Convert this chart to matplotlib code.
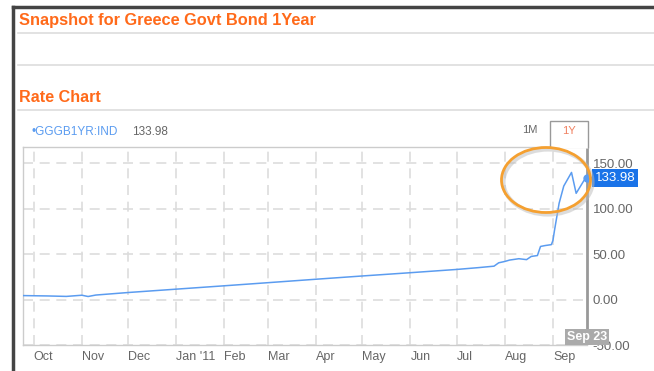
import datetime as dt
import matplotlib
matplotlib.use('Agg')
import matplotlib.pyplot as plt
import matplotlib.dates as mdates
from matplotlib.patches import Ellipse, Polygon
from matplotlib.lines import Line2D

plt.rcParams['font.family'] = ['Liberation Sans', 'DejaVu Sans']

# data
dates = ['2010-09-24', '2010-10-10', '2010-10-22', '2010-11-01', '2010-11-05',
         '2010-11-10', '2010-12-01', '2011-01-01', '2011-02-01', '2011-03-01',
         '2011-04-01', '2011-05-01', '2011-06-01', '2011-07-01', '2011-07-15',
         '2011-07-25', '2011-07-28', '2011-08-01', '2011-08-04', '2011-08-10',
         '2011-08-15', '2011-08-18', '2011-08-22', '2011-08-24', '2011-08-27',
         '2011-08-31', '2011-09-01', '2011-09-02', '2011-09-05', '2011-09-08',
         '2011-09-13', '2011-09-16', '2011-09-21', '2011-09-23']
rates = [4.4, 4.0, 3.5, 4.8, 3.4, 5.0, 7.8, 11.5, 15.2, 18.6,
         22.4, 26.0, 29.6, 33.2, 35.2, 36.8, 40.5, 42.0, 43.5, 45.0,
         44.0, 47.5, 48.5, 58.5, 59.5, 60.5, 65.0, 76.0, 106.0, 125.0,
         140.0, 117.0, 131.0, 133.98]
last_value = 133.98
y_ticks = [-50, 0, 50, 100, 150]
series_name = 'GGGB1YR:IND'

W, H = 654, 371
x = [dt.datetime.strptime(d, '%Y-%m-%d') for d in dates]

fig = plt.figure(figsize=(W / 100, H / 100), dpi=100)
fig.patch.set_facecolor('white')

def fx(px):
    return px / W

def fy(py):
    return 1 - py / H

orange = '#ff6a1a'
blue = '#5b9cf0'
gray_txt = '#666666'

# page frame and separators
fig.add_artist(Line2D([fx(13), fx(13)], [fy(7), fy(371)], color='#444444', lw=2.5))
fig.add_artist(Line2D([fx(13), fx(654)], [fy(7), fy(7)], color='#444444', lw=2.5))
for yy in (33, 65, 110):
    fig.add_artist(Line2D([fx(18), fx(654)], [fy(yy), fy(yy)], color='#dddddd', lw=1.2))

fig.text(fx(19), fy(21), 'Snapshot for Greece Govt Bond 1Year', color=orange,
         fontsize=11.8, fontweight='bold', va='center', ha='left')
fig.text(fx(19), fy(97), 'Rate Chart', color=orange,
         fontsize=11.6, fontweight='bold', va='center', ha='left')

# legend line
fig.text(fx(32), fy(132), '\u2022' + series_name, color=blue, fontsize=8.5,
         va='center', ha='left')
fig.text(fx(132), fy(132), f'{last_value:.2f}', color=gray_txt, fontsize=8.5,
         va='center', ha='left')

# main axes
ax = fig.add_axes([fx(23), fy(345), fx(587) - fx(23), fy(147) - fy(345)])
ax.plot(x, rates, color=blue, lw=1.1, zorder=3)
ax.plot(x[-1], rates[-1], 'o', color=blue, ms=5, zorder=4, clip_on=False)

ax.set_xlim(dt.datetime(2010, 9, 24), dt.datetime(2011, 9, 23))
ax.set_ylim(-50, 168)

ax.xaxis.set_major_locator(mdates.MonthLocator())

def month_fmt(v, pos):
    d = mdates.num2date(v)
    if d.month == 1:
        return d.strftime("%b '%y")
    return d.strftime('%b')

ax.xaxis.set_major_formatter(plt.FuncFormatter(month_fmt))
ax.tick_params(axis='x', length=0, pad=4, labelsize=9, labelcolor=gray_txt)

ax.yaxis.tick_right()
ax.set_yticks(y_ticks)
ax.yaxis.set_major_formatter(plt.FuncFormatter(lambda v, p: f'{v:.2f}'))
ax.tick_params(axis='y', length=0, pad=4, labelsize=9.5, labelcolor=gray_txt)

ax.grid(True, color='#dddddd', ls=(0, (6, 4)), lw=1.2)
ax.set_axisbelow(True)
for s in ('left', 'top', 'bottom'):
    ax.spines[s].set_color('#cccccc')
    ax.spines[s].set_linewidth(1)
ax.spines['right'].set_visible(False)
ax.plot([1, 1], [(-41 + 50) / 218 + 0.03, 1], transform=ax.transAxes,
        color='#999999', lw=2, clip_on=False, zorder=2)

for lbl in ax.get_xticklabels():
    lbl.set_ha('left')

# last value marker label
yt = ax.get_yaxis_transform()
ax.text(1.014, last_value, f'{last_value:.2f}', transform=yt, color='white',
        fontsize=9.5, va='center', ha='left', zorder=6,
        bbox=dict(boxstyle='square,pad=0.2', fc='#1a73e8', ec='none'))
ax.plot(1.011, last_value, marker='<', color='#1a73e8', ms=6, transform=yt,
        clip_on=False, zorder=6)

# date label at bottom
ax.text(x[-1], -41, 'Sep 23', color='white', fontsize=9, fontweight='bold',
        ha='center', va='center', zorder=6,
        bbox=dict(boxstyle='square,pad=0.15', fc='#aaaaaa', ec='none'))

# period tabs
fig.text(fx(530), fy(130), '1M', color=gray_txt, fontsize=8, ha='center', va='center')
tab = Polygon([[fx(550), fy(148)], [fx(550), fy(121)], [fx(588), fy(121)], [fx(588), fy(148)]],
              closed=False, fc='white', ec='#999999', lw=1, transform=fig.transFigure)
fig.add_artist(tab)
fig.text(fx(569), fy(131), '1Y', color='#f08060', fontsize=8, ha='center', va='center')

# highlight ellipse with soft shadow
shadow = Ellipse((fx(548), fy(182)), fx(89), 65 / H, fill=False, ec='#bbbbbb',
                 lw=3, alpha=0.5, transform=fig.transFigure)
fig.add_artist(shadow)
ring = Ellipse((fx(546), fy(180)), fx(89), 65 / H, fill=False, ec='#f5a030',
               lw=2, transform=fig.transFigure)
fig.add_artist(ring)

fig.savefig('out.png', dpi=100, facecolor='white')
